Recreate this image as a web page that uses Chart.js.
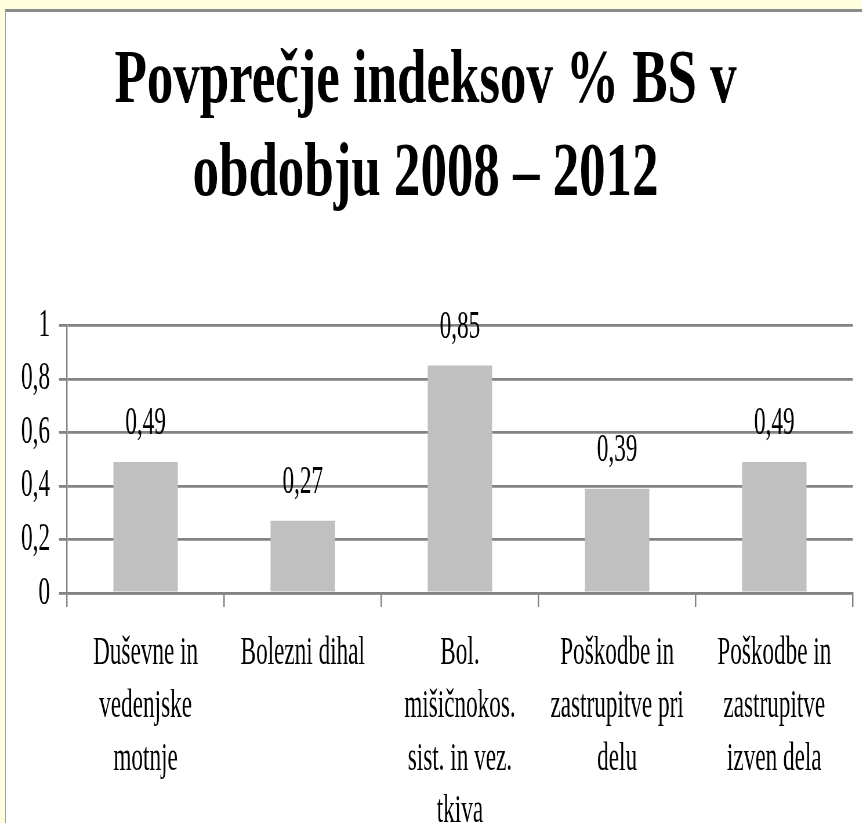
<!DOCTYPE html>
<html>
<head>
<meta charset="utf-8">
<script src="https://cdn.jsdelivr.net/npm/chart.js@4.4.0/dist/chart.umd.min.js"></script>
<style>
  html, body { margin: 0; padding: 0; }
  body { width: 862px; height: 823px; background: #ffffe0; position: relative; overflow: hidden; }
  .panel { position: absolute; left: 5px; top: 9px; right: 0; bottom: 0; background: #fff;
           border-top: 3px solid #8a8a8a; border-left: 1px solid #a0a0a0; }
  .wrap { position: absolute; left: 0; top: 0; transform-origin: 0 0; }
</style>
</head>
<body>
<div class="panel"></div>
<div class="wrap" id="wrap"><canvas id="myChart"></canvas></div>
<script>
// data
const categories = [
  ["Duševne in", "vedenjske", "motnje"],
  ["Bolezni dihal"],
  ["Bol.", "mišičnokos.", "sist. in vez.", "tkiva"],
  ["Poškodbe in", "zastrupitve pri", "delu"],
  ["Poškodbe in", "zastrupitve", "izven dela"]
];
const values = [0.49, 0.27, 0.85, 0.39, 0.49];
const yMin = 0;
const yMax = 1;
const yStep = 0.2;
const titleLines = ["Povprečje indeksov % BS v", "obdobju 2008 – 2012"];

// the original is squeezed sideways, so draw wide and squeeze the canvas
const squeeze = 0.58;
const titleWiden = 1.2; // title is less squeezed than the rest
const W = Math.round(862 / squeeze);
const H = 823;

const canvas = document.getElementById('myChart');
canvas.width = W;
canvas.height = H;
canvas.style.width = W + 'px';
canvas.style.height = H + 'px';
document.getElementById('wrap').style.transform = `scaleX(${squeeze})`;

const ctx = canvas.getContext('2d');
const serif = '"Liberation Serif", "Times New Roman", serif';
const gridGray = '#838383';

const fmt = v => String(Math.round(v * 100) / 100).replace('.', ',');

const valueLabels = {
  id: 'valueLabels',
  afterDatasetsDraw(chart) {
    const c = chart.ctx;
    const meta = chart.getDatasetMeta(0);
    c.save();
    c.font = '40px ' + serif;
    c.fillStyle = '#000';
    c.textAlign = 'center';
    c.textBaseline = 'alphabetic';
    meta.data.forEach((bar, i) => {
      c.fillText(fmt(values[i]), bar.x, bar.y - 28);
    });
    c.restore();
  }
};

// stretch the title block a little wider around the middle of the canvas
const wideTitle = {
  id: 'wideTitle',
  afterLayout(chart) {
    const t = chart.titleBlock;
    if (!t || t._wide) return;
    const draw = t.draw.bind(t);
    t.draw = function () {
      const c = chart.ctx;
      const cx = chart.width / 2;
      c.save();
      c.translate(cx, 0);
      c.scale(titleWiden, 1);
      c.translate(-cx, 0);
      draw();
      c.restore();
    };
    t._wide = true;
  }
};

const myChart = new Chart(ctx, {
  type: 'bar',
  data: {
    labels: categories,
    datasets: [{
      data: values,
      backgroundColor: '#c0c0c0',
      borderWidth: 0,
      barPercentage: 0.41,
      categoryPercentage: 1
    }]
  },
  options: {
    responsive: false,
    animation: false,
    devicePixelRatio: 1,
    layout: { padding: { left: 0, right: 9 / squeeze, top: 0, bottom: 0 } },
    plugins: {
      legend: { display: false },
      tooltip: { enabled: false },
      title: {
        display: true,
        text: titleLines,
        color: '#000',
        font: { family: serif, size: 76, weight: 'bold', lineHeight: 1.22 },
        padding: { top: 36, bottom: 104 }
      }
    },
    scales: {
      x: {
        grid: { display: true, drawOnChartArea: false, drawTicks: true, tickLength: 14,
                color: gridGray, lineWidth: 2.5, offset: true },
        border: { display: true, color: gridGray, width: 2.5 },
        ticks: { color: '#000', font: { family: serif, size: 40, lineHeight: 1.32 },
                 padding: 20, autoSkip: false, maxRotation: 0, minRotation: 0 },
        afterFit(scale) { scale.height = H - 593; }
      },
      y: {
        min: yMin,
        max: yMax,
        grid: { color: gridGray, lineWidth: 2.8, tickLength: 8 / squeeze },
        border: { display: true, color: gridGray, width: 2.5 },
        ticks: { stepSize: yStep, color: '#000', font: { family: serif, size: 40 },
                 padding: 9 / squeeze, callback: v => fmt(v) },
        afterFit(scale) { scale.width = 67 / squeeze; }
      }
    }
  },
  plugins: [valueLabels, wideTitle]
});
myChart.draw();
</script>
</body>
</html>
